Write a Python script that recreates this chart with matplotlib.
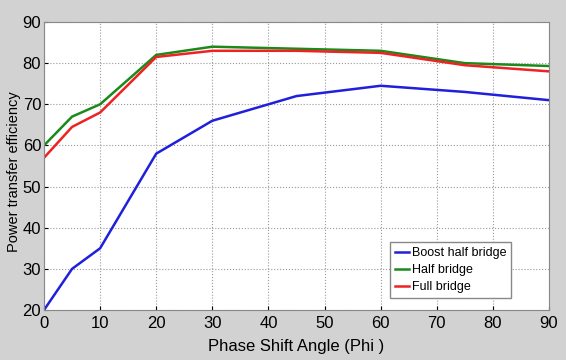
import matplotlib
matplotlib.use('Agg')
import matplotlib.pyplot as plt

phi = [0, 5, 10, 20, 30, 45, 60, 75, 90]
boost_half = [20, 30, 35, 58, 66, 72, 74.5, 73, 71]
half_bridge = [60, 67, 70, 82, 84, 83.5, 83, 80, 79.3]
full_bridge = [57, 64.5, 68, 81.5, 83, 83, 82.5, 79.5, 78]

plt.rcParams['font.family'] = ['Liberation Sans', 'DejaVu Sans']

fig = plt.figure(figsize=(5.66, 3.6), dpi=100, facecolor='#d2d2d2')
ax = fig.add_axes([44/566, 1 - 310/360, 505/566, 288/360])

ax.plot(phi, boost_half, color='#1f1fdc', lw=1.8, label='Boost half bridge')
ax.plot(phi, half_bridge, color='#1a8a1a', lw=1.8, label='Half bridge')
ax.plot(phi, full_bridge, color='#ee2222', lw=1.8, label='Full bridge')

ax.set_xlim(0, 90)
ax.set_ylim(20, 90)
ax.set_xticks(range(0, 91, 10))
ax.set_yticks(range(20, 91, 10))
ax.grid(True, linestyle=':', color='#999999', lw=0.8)
ax.tick_params(labelsize=12, direction='in', length=3)
ax.tick_params(axis='x', pad=4)
ax.tick_params(axis='y', pad=2)
for s in ax.spines.values():
    s.set_color('#888888')

ax.set_xlabel('Phase Shift Angle (Phi )', fontsize=12, labelpad=6)
ax.set_ylabel('Power transfer efficiency', fontsize=10.5)
ax.yaxis.set_label_coords(-0.046, 0.48)

leg = ax.legend(loc='lower right', bbox_to_anchor=(0.925, 0.04), fontsize=9,
                fancybox=False, framealpha=1, edgecolor='#888888',
                handlelength=1.1, handletextpad=0.2, borderpad=0.4,
                labelspacing=0.4, borderaxespad=0)

fig.savefig('out.png', dpi=100, facecolor=fig.get_facecolor())
